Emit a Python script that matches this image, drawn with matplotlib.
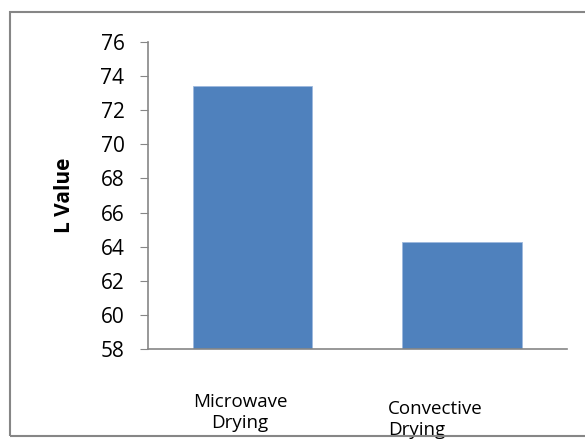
import matplotlib
matplotlib.use('Agg')
import matplotlib.pyplot as plt
import matplotlib.transforms as mtransforms
from matplotlib.patches import Rectangle

# data
categories = ['Microwave\nDrying', 'Convective\nDrying']
l_values = [73.4, 64.3]
y_ticks = [58, 60, 62, 64, 66, 68, 70, 72, 74, 76]

plt.rcParams['font.family'] = ['Open Sans', 'DejaVu Sans']

fig = plt.figure(figsize=(5.85, 4.41), dpi=100)
ax = fig.add_axes([0.253, 0.2086, 0.716, 0.6962])

x = range(len(categories))
ax.bar(x, l_values, width=0.57, color='#4F81BD', edgecolor='#9DB9DE', linewidth=0.6)

ax.set_xlim(-0.5, 1.5)
ax.set_ylim(58, 76)
ax.set_yticks(y_ticks)
ax.tick_params(axis='y', direction='out', length=6, color='#868686', labelsize=15, pad=11)
ax.set_xticks([])
for s in ['top', 'right']:
    ax.spines[s].set_visible(False)
for s in ['left', 'bottom']:
    ax.spines[s].set_color('#868686')
    ax.spines[s].set_linewidth(1.2)

ax.set_ylabel('L Value', fontsize=15, fontweight='bold', labelpad=18)

# category labels, placed a bit off-centre like in the original
tr = mtransforms.blended_transform_factory(ax.transData, fig.transFigure)
ax.text(-0.06, 1 - 393 / 441, categories[0], transform=tr, fontsize=13.5,
        ha='center', va='top', linespacing=1.2, clip_on=False)
ax.text(0.646, 1 - 400 / 441, categories[1], transform=tr, fontsize=13.5,
        ha='left', va='top', linespacing=1.2, clip_on=False)

# outer border
fig.patches.append(Rectangle((10 / 585, 1 - 436 / 441), 1.2, (436 - 12) / 441,
                             transform=fig.transFigure, fill=False, edgecolor='#868686', linewidth=1.5))

fig.savefig('out.png', dpi=100)
